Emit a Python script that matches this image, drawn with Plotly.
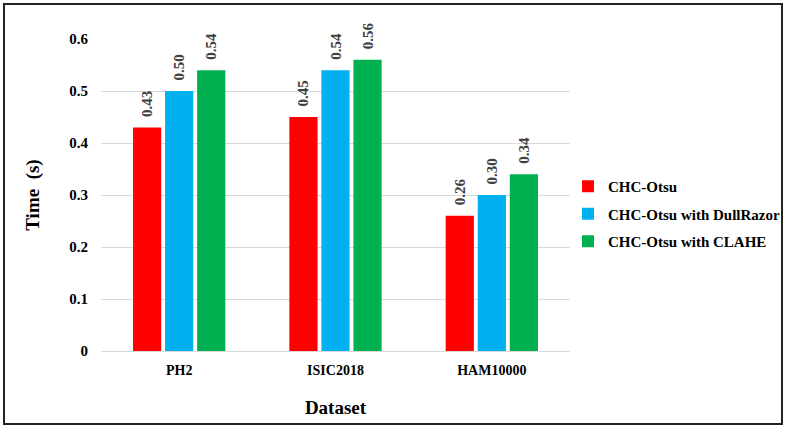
import plotly.graph_objects as go

categories = ["PH2", "ISIC2018", "HAM10000"]
series_names = ["CHC-Otsu", "CHC-Otsu with DullRazor", "CHC-Otsu with CLAHE"]
otsu = [0.43, 0.45, 0.26]
dullrazor = [0.50, 0.54, 0.30]
clahe = [0.54, 0.56, 0.34]
colors = ["#FF0000", "#00B0F0", "#00B050"]
y_ticks = [0, 0.1, 0.2, 0.3, 0.4, 0.5, 0.6]
y_tick_labels = ["0", "0.1", "0.2", "0.3", "0.4", "0.5", "0.6"]

FONT = "Liberation Serif"

fig = go.Figure()
for name, vals, col in zip(series_names, [otsu, dullrazor, clahe], colors):
    fig.add_trace(go.Bar(
        x=categories, y=vals, name=name, legendgroup=name,
        marker=dict(color=col, line=dict(width=0)),
        text=["\u2002" + f"{v:.2f}" for v in vals],
        textposition="outside", textangle=-90, constraintext="none",
        textfont=dict(family=FONT, size=15, color="#404040", weight="bold"),
        cliponaxis=False,
    ))

L, R, T, B = 101, 216, 39, 80
H = 431 - T - B
W = 786 - L - R

fig.update_layout(
    width=786, height=431,
    margin=dict(l=L, r=R, t=T, b=B, autoexpand=False),
    paper_bgcolor="white", plot_bgcolor="white",
    barmode="group", bargap=0.385, bargroupgap=0.12,
    font=dict(family=FONT, color="#000000"),
    showlegend=True,
    legend=dict(
        x=(568 - L) / W, y=(351 - 214) / H, xanchor="left", yanchor="middle",
        font=dict(family=FONT, size=15, color="#000000", weight="bold"),
        itemwidth=30, tracegroupgap=5, bgcolor="rgba(0,0,0,0)",
    ),
    xaxis=dict(
        showgrid=False, showline=False, zeroline=False, automargin=False,
        tickfont=dict(family=FONT, size=14, color="#000000", weight="bold"),
        ticklabelstandoff=9,
        title=dict(text="Dataset", font=dict(family=FONT, size=19, color="#000000", weight="bold"), standoff=23),
    ),
    yaxis=dict(
        range=[0, 0.6], tickvals=y_ticks, ticktext=y_tick_labels, automargin=False,
        showgrid=True, gridcolor="#D9D9D9", gridwidth=1,
        zeroline=True, zerolinecolor="#D9D9D9", zerolinewidth=1, showline=False,
        tickfont=dict(family=FONT, size=15, color="#000000", weight="bold"),
        ticklabelstandoff=12,
        title=dict(text="Time\u00a0 (s)", font=dict(family=FONT, size=19, color="#000000", weight="bold"), standoff=24),
    ),
    shapes=[dict(
        type="rect", xref="paper", yref="paper",
        x0=(4 - L) / W, x1=(782 - L) / W,
        y0=(351 - 424) / H, y1=(351 - 4) / H,
        line=dict(color="#222222", width=2), fillcolor="rgba(0,0,0,0)", layer="below",
    )],
)

fig.write_html("out.html", config={"displayModeBar": False},
               post_script="document.body.style.margin='0';document.body.style.padding='0';")
